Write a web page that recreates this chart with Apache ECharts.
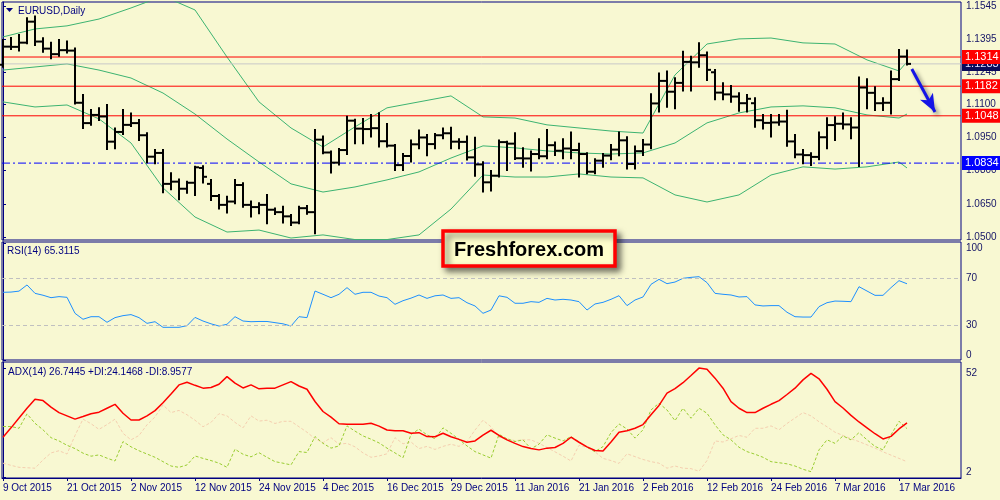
<!DOCTYPE html>
<html>
<head>
<meta charset="utf-8">
<title>EURUSD Daily</title>
<script src="https://cdn.jsdelivr.net/npm/echarts@6/dist/echarts.min.js"></script>
<style>
html, body { margin: 0; padding: 0; background: #f8f8d2; }
#chart { width: 1000px; height: 500px; }
</style>
</head>
<body>
<div id="chart"></div>
<script>
// 每个交易日一根 K 线: [开, 高, 低, 收]  (9 Oct 2015 .. 18 Mar 2016)
var ohlc = [
    [1.1279, 1.1391, 1.1270, 1.1361], [1.1361, 1.1400, 1.1350, 1.1360], [1.1360, 1.1414, 1.1343, 1.1379],
    [1.1379, 1.1489, 1.1376, 1.1474], [1.1474, 1.1497, 1.1368, 1.1384], [1.1384, 1.1399, 1.1338, 1.1352],
    [1.1352, 1.1379, 1.1308, 1.1327], [1.1327, 1.1391, 1.1320, 1.1345], [1.1345, 1.1384, 1.1335, 1.1343],
    [1.1343, 1.1353, 1.1104, 1.1107], [1.1107, 1.1142, 1.0993, 1.1015], [1.1015, 1.1074, 1.1007, 1.1052],
    [1.1052, 1.1082, 1.1029, 1.1045], [1.1045, 1.1097, 1.0898, 1.0931], [1.0931, 1.0991, 1.0901, 1.0975],
    [1.0975, 1.1074, 1.0966, 1.1007], [1.1007, 1.1059, 1.1002, 1.1015], [1.1015, 1.1029, 1.0939, 1.0960],
    [1.0960, 1.0969, 1.0838, 1.0863], [1.0863, 1.0893, 1.0833, 1.0880], [1.0880, 1.0893, 1.0702, 1.0740],
    [1.0740, 1.0788, 1.0716, 1.0750], [1.0750, 1.0760, 1.0670, 1.0718], [1.0718, 1.0750, 1.0700, 1.0745],
    [1.0745, 1.0818, 1.0690, 1.0815], [1.0812, 1.0820, 1.0746, 1.0772], [1.0740, 1.0758, 1.0667, 1.0685],
    [1.0685, 1.0690, 1.0629, 1.0645], [1.0645, 1.0682, 1.0611, 1.0660], [1.0660, 1.0758, 1.0652, 1.0735],
    [1.0735, 1.0743, 1.0637, 1.0645], [1.0645, 1.0660, 1.0592, 1.0635], [1.0635, 1.0652, 1.0607, 1.0645],
    [1.0645, 1.0690, 1.0562, 1.0623], [1.0623, 1.0629, 1.0604, 1.0612], [1.0612, 1.0637, 1.0565, 1.0593],
    [1.0593, 1.0599, 1.0554, 1.0565], [1.0565, 1.0637, 1.0562, 1.0630], [1.0630, 1.0640, 1.0605, 1.0612],
    [1.0612, 1.0984, 1.0516, 1.0940], [1.0940, 1.0954, 1.0878, 1.0882], [1.0882, 1.0886, 1.0791, 1.0836],
    [1.0836, 1.0898, 1.0828, 1.0893], [1.0893, 1.1044, 1.0875, 1.1026], [1.1026, 1.1030, 1.0924, 1.0990],
    [1.0990, 1.1034, 1.0924, 1.0988], [1.0988, 1.1052, 1.0954, 1.0992], [1.0992, 1.1060, 1.0909, 1.0933],
    [1.0933, 1.1011, 1.0909, 1.0913], [1.0913, 1.0916, 1.0803, 1.0825], [1.0825, 1.0875, 1.0803, 1.0866],
    [1.0866, 1.0936, 1.0841, 1.0919], [1.0919, 1.0981, 1.0901, 1.0950], [1.0950, 1.0961, 1.0869, 1.0920],
    [1.0920, 1.0966, 1.0901, 1.0960], [1.0960, 1.0991, 1.0946, 1.0969], [1.0969, 1.0994, 1.0901, 1.0931],
    [1.0931, 1.0942, 1.0901, 1.0930], [1.0930, 1.0954, 1.0850, 1.0860], [1.0860, 1.0949, 1.0777, 1.0828],
    [1.0828, 1.0838, 1.0705, 1.0747], [1.0747, 1.0798, 1.0710, 1.0777], [1.0777, 1.0936, 1.0773, 1.0929],
    [1.0929, 1.0931, 1.0803, 1.0922], [1.0922, 1.0969, 1.0852, 1.0856], [1.0856, 1.0901, 1.0818, 1.0855],
    [1.0855, 1.0886, 1.0800, 1.0875], [1.0875, 1.0942, 1.0856, 1.0865], [1.0865, 1.0984, 1.0856, 1.0915],
    [1.0915, 1.0927, 1.0871, 1.0890], [1.0890, 1.0942, 1.0856, 1.0900], [1.0900, 1.0972, 1.0856, 1.0893],
    [1.0893, 1.0921, 1.0773, 1.0875], [1.0875, 1.0878, 1.0788, 1.0795], [1.0795, 1.0851, 1.0788, 1.0845],
    [1.0845, 1.0875, 1.0818, 1.0868], [1.0868, 1.0916, 1.0851, 1.0895], [1.0895, 1.0972, 1.0869, 1.0937],
    [1.0937, 1.0951, 1.0810, 1.0830], [1.0830, 1.0909, 1.0810, 1.0888], [1.0888, 1.0939, 1.0871, 1.0918],
    [1.0918, 1.1145, 1.0901, 1.1104], [1.1104, 1.1240, 1.1067, 1.1206], [1.1206, 1.1248, 1.1089, 1.1157],
    [1.1157, 1.1218, 1.1082, 1.1197], [1.1197, 1.1338, 1.1162, 1.1292], [1.1292, 1.1315, 1.1162, 1.1290],
    [1.1290, 1.1376, 1.1270, 1.1322], [1.1322, 1.1335, 1.1210, 1.1256], [1.1245, 1.1255, 1.1123, 1.1153],
    [1.1153, 1.1195, 1.1123, 1.1145], [1.1145, 1.1183, 1.1112, 1.1135], [1.1135, 1.1150, 1.1071, 1.1105],
    [1.1105, 1.1142, 1.1067, 1.1125], [1.1105, 1.1127, 1.0999, 1.1028], [1.1028, 1.1052, 1.0991, 1.1016],
    [1.1016, 1.1052, 1.0954, 1.1018], [1.1018, 1.1052, 1.1007, 1.1022], [1.1022, 1.1071, 1.0912, 1.0932],
    [1.0932, 1.0961, 1.0860, 1.0873], [1.0873, 1.0893, 1.0833, 1.0870], [1.0870, 1.0878, 1.0825, 1.0862],
    [1.0862, 1.0972, 1.0851, 1.0951], [1.0951, 1.1037, 1.0901, 1.1006], [1.1006, 1.1041, 1.0939, 1.1012],
    [1.1012, 1.1059, 1.0991, 1.1009], [1.1009, 1.1037, 1.0946, 1.0995], [1.0995, 1.1221, 1.0821, 1.1176],
    [1.1176, 1.1213, 1.1082, 1.1152], [1.1152, 1.1177, 1.1074, 1.1105], [1.1105, 1.1127, 1.1074, 1.1107],
    [1.1107, 1.1248, 1.1059, 1.1214], [1.1214, 1.1346, 1.1210, 1.1316], [1.1316, 1.1343, 1.1280, 1.1283]
];

// 布林带 (每 4 根读一次)
var bandIdx = [0, 4, 8, 12, 16, 20, 24, 28, 32, 36, 40, 44, 48, 52, 56, 60, 64, 68, 72, 76, 80, 84, 88, 92, 96, 100, 104, 108, 112, 113];
var bandUpper = [1.1405, 1.1441, 1.1455, 1.1486, 1.1536, 1.1590, 1.1527, 1.1314, 1.1111, 1.0993,
    1.0907, 1.0998, 1.1084, 1.1111, 1.1138, 1.1043, 1.1038, 1.1007, 1.0993, 1.0979,
    1.0970, 1.1233, 1.1373, 1.1396, 1.1400, 1.1378, 1.1373, 1.1301, 1.1251, 1.1292];
var bandMid = [1.1255, 1.1269, 1.1283, 1.1255, 1.1219, 1.1151, 1.1056, 1.0943, 1.0839, 1.0740,
    1.0703, 1.0726, 1.0758, 1.0794, 1.0857, 1.0912, 1.0903, 1.0889, 1.0880, 1.0875,
    1.0880, 1.0925, 1.1016, 1.1061, 1.1088, 1.1093, 1.1084, 1.1052, 1.1038, 1.1056];
var bandLower = [1.1111, 1.1088, 1.1097, 1.1034, 1.0925, 1.0722, 1.0590, 1.0522, 1.0531, 1.0495,
    1.0509, 1.0488, 1.0488, 1.0509, 1.0626, 1.0780, 1.0771, 1.0771, 1.0785, 1.0771,
    1.0767, 1.0690, 1.0658, 1.0690, 1.0780, 1.0817, 1.0807, 1.0817, 1.0839, 1.0812];

var rsi = [58.0, 58.2, 59.0, 64.3, 57.1, 55.5, 53.4, 54.3, 53.7, 40.0,
    34.9, 37.1, 37.1, 32.3, 36.3, 38.0, 38.9, 36.3, 31.4, 32.8,
    28.0, 28.0, 28.0, 29.4, 36.5, 33.4, 31.0, 29.1, 30.6, 37.1,
    33.4, 32.8, 33.0, 33.0, 32.0, 31.0, 29.1, 37.1, 36.3, 59.1,
    56.3, 53.4, 56.3, 62.0, 56.3, 58.0, 58.0, 54.8, 53.4, 47.7,
    50.8, 53.0, 55.7, 52.8, 55.0, 55.7, 52.8, 53.4, 49.1, 46.3,
    40.0, 42.8, 55.0, 53.7, 48.6, 48.6, 50.0, 49.4, 52.8, 51.4,
    52.0, 51.4, 50.0, 42.8, 48.0, 49.4, 52.0, 55.1, 46.6, 51.4,
    54.0, 64.8, 69.1, 65.4, 66.8, 70.0, 70.8, 71.4, 66.3, 57.1,
    56.3, 55.7, 54.0, 54.3, 47.2, 46.3, 46.6, 46.6, 40.9, 37.1,
    36.8, 36.8, 45.7, 49.1, 50.5, 50.3, 50.0, 62.8, 59.1, 55.4,
    55.4, 62.0, 68.0, 65.3115];
var rsiLevels = [30, 70];

var adx = [20.2, 24.5, 29.0, 33.5, 37.6, 37.0, 34.0, 31.5, 30.0, 28.5,
    29.7, 31.0, 31.7, 33.5, 35.3, 31.2, 28.1, 28.1, 30.0, 32.4,
    36.0, 40.0, 44.2, 45.4, 44.0, 42.7, 43.0, 44.5, 48.0, 45.0,
    42.8, 44.2, 42.4, 42.7, 42.7, 44.2, 45.7, 43.7, 42.2, 36.6,
    32.0, 29.4, 26.4, 26.2, 26.2, 26.2, 26.6, 25.3, 23.5, 23.2,
    23.2, 22.0, 22.3, 20.5, 20.4, 22.0, 20.4, 19.2, 17.9, 18.5,
    21.2, 23.4, 21.0, 19.0, 17.4, 15.9, 15.0, 14.4, 15.2, 15.5,
    17.4, 20.2, 17.9, 15.8, 14.1, 13.9, 18.0, 22.5, 23.2, 24.3,
    26.0, 30.5, 34.8, 40.4, 42.5, 45.2, 48.5, 51.9, 51.4, 47.3,
    42.7, 36.5, 33.5, 31.5, 31.5, 33.5, 35.3, 37.0, 39.8, 42.7,
    46.5, 49.5, 47.0, 42.2, 36.5, 33.6, 30.2, 27.2, 24.5, 21.8,
    19.4, 20.6, 24.0, 26.7445];
var plusDI = [25.1, 25.1, 24.3, 30.9, 26.6, 23.6, 20.0, 18.5, 16.5, 15.0,
    12.9, 11.5, 12.1, 10.6, 9.3, 18.2, 15.8, 14.0, 12.5, 11.0,
    9.0, 7.0, 6.4, 7.5, 11.6, 10.5, 9.5, 8.3, 6.4, 14.7,
    12.4, 11.2, 13.1, 11.0, 9.0, 8.3, 7.5, 13.6, 13.2, 20.5,
    17.4, 15.2, 16.2, 25.4, 23.0, 20.8, 19.3, 17.6, 15.2, 13.0,
    10.8, 21.5, 23.9, 21.3, 19.5, 24.5, 22.0, 19.2, 16.2, 13.6,
    12.1, 10.6, 21.5, 19.5, 18.2, 19.0, 14.9, 17.0, 21.3, 19.8,
    18.5, 20.5, 18.0, 15.6, 13.6, 15.9, 22.3, 26.3, 24.0, 19.8,
    23.6, 32.7, 35.8, 32.7, 27.8, 33.5, 28.9, 33.5, 31.2, 25.9,
    21.3, 19.0, 15.6, 13.6, 12.4, 11.0, 9.0, 8.5, 8.0, 7.0,
    5.5, 4.4, 14.4, 19.0, 17.4, 20.8, 19.0, 22.3, 19.0, 16.0,
    14.4, 21.3, 27.5, 24.1468];
var minusDI = [8.3, 7.3, 6.4, 6.2, 6.0, 9.8, 13.0, 14.0, 12.5, 21.0,
    28.5, 26.4, 23.8, 26.0, 28.5, 22.0, 19.0, 21.0, 25.9, 29.5,
    35.0, 31.5, 32.5, 30.5, 28.0, 25.0, 27.0, 31.0, 30.0, 27.0,
    24.5, 30.0, 27.6, 28.0, 26.5, 27.5, 27.5, 25.0, 22.5, 19.5,
    17.7, 20.0, 17.0, 17.4, 15.8, 13.0, 11.0, 11.6, 12.6, 20.0,
    17.2, 18.0, 15.0, 16.0, 14.6, 16.0, 17.0, 16.0, 18.2, 23.5,
    28.0, 25.0, 20.2, 19.5, 18.6, 19.0, 19.0, 17.4, 15.5, 13.5,
    11.5, 9.3, 16.5, 15.5, 13.5, 10.5, 9.5, 8.2, 12.6, 11.3,
    10.0, 9.0, 8.3, 6.0, 7.0, 6.0, 5.8, 4.6, 9.5, 18.5,
    18.0, 19.5, 21.0, 20.2, 24.3, 24.3, 25.4, 23.6, 26.5, 29.0,
    31.5, 30.0, 27.3, 25.0, 22.5, 21.0, 19.5, 18.2, 16.7, 15.2,
    13.5, 12.0, 10.5, 8.9577];

// 时间轴刻度: 每 8 根一个
var tickIdx = [0, 8, 16, 24, 32, 40, 48, 56, 64, 72, 80, 88, 96, 104, 112];
var tickDates = ['9 Oct 2015', '21 Oct 2015', '2 Nov 2015', '12 Nov 2015', '24 Nov 2015', '4 Dec 2015',
    '16 Dec 2015', '29 Dec 2015', '11 Jan 2016', '21 Jan 2016', '2 Feb 2016', '12 Feb 2016',
    '24 Feb 2016', '7 Mar 2016', '17 Mar 2016'];
var priceTicks = [1.0500, 1.0650, 1.0800, 1.0950, 1.1100, 1.1245, 1.1395, 1.1545];
var rsiTicks = [0, 30, 70, 100];
var adxTicks = [2, 52];

// 水平线
var resistLevels = [1.1314, 1.1182, 1.1048];
var supportLevel = 1.0834;
var lastPrice = 1.1283;
var arrowFrom = [113.6, 1.1260];
var arrowTo = [116.5, 1.1065];

var NAVY = '#000080';
var FONT = 'Liberation Sans';
var X_MIN = -0.125, X_MAX = 119.75;

function pairs(xs, ys) {
    var out = [];
    for (var i = 0; i < ys.length; i++) out.push([xs ? xs[i] : i, ys[i]]);
    return out;
}

// OHLC 美国线
function renderBar(params, api) {
    var x = api.value(0);
    var o = api.coord([x, api.value(1)]);
    var h = api.coord([x, api.value(2)]);
    var l = api.coord([x, api.value(3)]);
    var c = api.coord([x, api.value(4)]);
    var st = { stroke: '#000', lineWidth: 2 };
    return {
        type: 'group',
        children: [
            { type: 'line', shape: { x1: h[0], y1: h[1] - 1, x2: l[0], y2: l[1] + 1 }, style: st },
            { type: 'line', shape: { x1: o[0] - 4, y1: o[1], x2: o[0], y2: o[1] }, style: st },
            { type: 'line', shape: { x1: c[0], y1: c[1], x2: c[0] + 4, y2: c[1] }, style: st }
        ]
    };
}

function xAxisFor(gi, show) {
    return {
        type: 'value', gridIndex: gi, min: X_MIN, max: X_MAX,
        splitLine: { show: false },
        axisLine: { show: show, lineStyle: { color: NAVY } },
        axisTick: { show: show, customValues: tickIdx, length: 3, lineStyle: { color: NAVY } },
        axisLabel: {
            show: show, customValues: tickIdx, align: 'left', margin: 5,
            color: NAVY, fontSize: 10, fontFamily: FONT,
            formatter: function(v) {
                var k = tickIdx.indexOf(Math.round(v));
                return k < 0 ? '' : tickDates[k];
            }
        }
    };
}

function yAxisFor(gi, min, max, ticks, fmt) {
    return {
        type: 'value', gridIndex: gi, position: 'right', min: min, max: max,
        splitLine: { show: false },
        axisLine: { show: true, lineStyle: { color: NAVY } },
        axisTick: { show: true, customValues: ticks, length: 3, lineStyle: { color: NAVY } },
        axisLabel: {
            customValues: ticks, margin: 5, color: '#141466', fontSize: 10, fontFamily: FONT,
            verticalAlignMinLabel: gi > 0 ? 'bottom' : 'middle',
            verticalAlignMaxLabel: gi > 0 ? 'top' : 'middle',
            formatter: fmt
        }
    };
}

// 价位线: 横跨整个图的两点折线, 右端带价格标签
function levelSeries(v, lineColor, lineType, boxColor, textColor, z) {
    return {
        name: 'level ' + v, type: 'line', xAxisIndex: 0, yAxisIndex: 0,
        data: [[X_MIN, v], [X_MAX, v]], showSymbol: false, silent: true, z: z,
        clip: false,
        lineStyle: { color: lineColor, type: lineType, width: 1 },
        itemStyle: { color: lineColor },
        endLabel: {
            show: true, distance: 1, padding: [2, 3, 1, 3],
            fontSize: 11, fontFamily: FONT, color: textColor, backgroundColor: boxColor,
            formatter: function() { return v.toFixed(4); }
        }
    };
}

var bandStyle = { color: '#3cb371', width: 1 };

var series = [
    {
        name: 'EURUSD', type: 'custom', xAxisIndex: 0, yAxisIndex: 0,
        renderItem: renderBar,
        encode: { x: 0, y: [1, 2, 3, 4] },
        data: ohlc.map(function(r, i) { return [i, r[0], r[1], r[2], r[3]]; }),
        z: 3
    },
    {
        name: 'BB upper', type: 'line', xAxisIndex: 0, yAxisIndex: 0,
        data: pairs(bandIdx, bandUpper), showSymbol: false, lineStyle: bandStyle, z: 2
    },
    {
        name: 'BB middle', type: 'line', xAxisIndex: 0, yAxisIndex: 0,
        data: pairs(bandIdx, bandMid), showSymbol: false, lineStyle: bandStyle, z: 2
    },
    {
        name: 'BB lower', type: 'line', xAxisIndex: 0, yAxisIndex: 0,
        data: pairs(bandIdx, bandLower), showSymbol: false, lineStyle: bandStyle, z: 2
    },
    levelSeries(lastPrice, '#c8c8c8', 'solid', '#0a0a5a', '#e0e0ff', 2)
];
resistLevels.forEach(function(v) {
    series.push(levelSeries(v, '#ff0000', 'solid', '#ff0000', '#ffffff', 2));
});
series.push(levelSeries(supportLevel, '#0000ff', [8, 3, 2, 3], '#0000ff', '#ffffff', 2));
series.push(
    {
        name: 'arrow', type: 'line', xAxisIndex: 0, yAxisIndex: 0,
        data: [arrowFrom, arrowTo], showSymbol: false,
        lineStyle: { opacity: 0 }, itemStyle: { color: '#1414e6' }, z: 4,
        markLine: {
            silent: true, symbol: ['none', 'arrow'], symbolSize: [11, 18], precision: 4,
            label: { show: false },
            lineStyle: {
                color: '#1414e6', width: 3, type: 'solid', opacity: 1,
                shadowBlur: 4, shadowColor: 'rgba(0,0,0,0.45)', shadowOffsetX: 3, shadowOffsetY: 3
            },
            data: [[{ coord: arrowFrom }, { coord: arrowTo }]]
        }
    },
    {
        name: 'RSI', type: 'line', xAxisIndex: 1, yAxisIndex: 1,
        data: pairs(null, rsi), showSymbol: false,
        lineStyle: { color: '#1e90ff', width: 1 },
        markLine: {
            silent: true, symbol: ['none', 'none'], label: { show: false },
            lineStyle: { color: '#c0c0c0', type: [4, 3], width: 1 },
            data: rsiLevels.map(function(v) { return { yAxis: v }; })
        }
    },
    {
        name: '-DI', type: 'line', xAxisIndex: 2, yAxisIndex: 2,
        data: pairs(null, minusDI), showSymbol: false,
        lineStyle: { color: '#f5cfb0', width: 1, type: [3, 2] }
    },
    {
        name: '+DI', type: 'line', xAxisIndex: 2, yAxisIndex: 2,
        data: pairs(null, plusDI), showSymbol: false,
        lineStyle: { color: '#9acd32', width: 1, type: [3, 2] }
    },
    {
        name: 'ADX', type: 'line', xAxisIndex: 2, yAxisIndex: 2,
        data: pairs(null, adx), showSymbol: false,
        lineStyle: { color: '#ff0000', width: 1.5 }
    }
);

var option = {
    animation: false,
    backgroundColor: '#f8f8d2',
    grid: [
        { left: 2, right: 39, top: 2, height: 238, show: true, borderColor: NAVY, borderWidth: 1, backgroundColor: 'transparent' },
        { left: 2, right: 39, top: 242, height: 118, show: true, borderColor: NAVY, borderWidth: 1, backgroundColor: 'transparent' },
        { left: 2, right: 39, top: 362, height: 116, show: true, borderColor: NAVY, borderWidth: 1, backgroundColor: 'transparent' }
    ],
    xAxis: [xAxisFor(0, false), xAxisFor(1, false), xAxisFor(2, true)],
    yAxis: [
        yAxisFor(0, 1.0486, 1.1563, priceTicks, function(v) { return v.toFixed(4); }),
        yAxisFor(1, 0, 101.1, rsiTicks, function(v) { return String(v); }),
        yAxisFor(2, 1.5, 54.7, adxTicks, function(v) { return String(v); })
    ],
    series: series,
    graphic: [
        { type: 'polygon', shape: { points: [[6, 8], [13, 8], [9.5, 12]] }, style: { fill: NAVY } },
        {
            type: 'text', x: 18, y: 11,
            style: { text: 'EURUSD,Daily', fill: NAVY, font: '10px ' + FONT, verticalAlign: 'middle' }
        },
        {
            type: 'text', x: 7, y: 251,
            style: { text: 'RSI(14) ' + rsi[rsi.length - 1].toFixed(4), fill: NAVY, font: '10px ' + FONT, verticalAlign: 'middle' }
        },
        {
            type: 'text', x: 8, y: 372,
            style: {
                text: 'ADX(14) ' + adx[adx.length - 1].toFixed(4) + ' +DI:' + plusDI[plusDI.length - 1].toFixed(4) +
                    ' -DI:' + minusDI[minusDI.length - 1].toFixed(4),
                fill: NAVY, font: '10px ' + FONT, verticalAlign: 'middle'
            }
        },
        {
            type: 'group', z: 100,
            children: [
                {
                    type: 'rect', shape: { x: 443, y: 231, width: 172, height: 35 },
                    style: {
                        fill: '#ffffcc', stroke: '#ff0000', lineWidth: 3.5,
                        shadowBlur: 6, shadowOffsetX: 4, shadowOffsetY: 4, shadowColor: 'rgba(0,0,0,0.5)'
                    }
                },
                {
                    type: 'text', x: 529, y: 250,
                    style: {
                        text: 'Freshforex.com', fill: '#000000', font: 'bold 20px ' + FONT,
                        align: 'center', verticalAlign: 'middle'
                    }
                }
            ]
        }
    ]
};

var chart = echarts.init(document.getElementById('chart'));
chart.setOption(option);
</script>
</body>
</html>
